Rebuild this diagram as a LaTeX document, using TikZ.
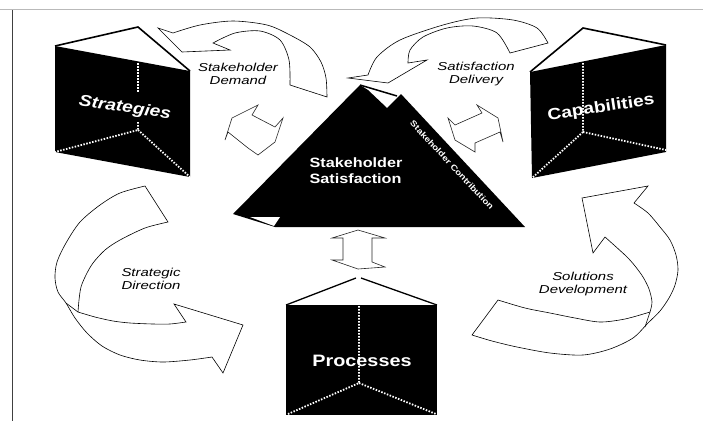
\documentclass[tikz,border=0pt]{standalone}
\usepackage{fontspec}
\setmainfont{Liberation Sans}
\newfontfamily\labfont[FakeStretch=1.3]{Liberation Sans}
\newfontfamily\boxfont[FakeStretch=1.2]{Liberation Sans}
\begin{document}
\begin{tikzpicture}[x=1pt,y=-1pt,
  ribbon/.style={fill=white, draw=black, line width=0.6pt, line join=miter},
  dbl/.style={fill=white, draw=black!85, line width=0.6pt},
  prism/.style={fill=black},
  topedge/.style={draw=black, line width=1.6pt},
  hidden/.style={draw=white, line width=1.8pt, dash pattern=on 1.5pt off 1.5pt},
  lab/.style={font=\labfont\itshape\fontsize{11.5}{13}\selectfont, align=center, inner sep=0pt},
  boxlab/.style={font=\boxfont\bfseries\fontsize{16}{18}\selectfont, text=white, inner sep=0pt}]
\useasboundingbox (0,0) rectangle (703,421);
\fill[white] (0,0) rectangle (703,421);
% frame
\draw[gray!55, line width=1.2pt] (0,9.5) -- (703,9.5);
\draw[black!75, line width=0.9pt] (12,10) -- (12,421);

% ---------- Strategies prism ----------
\coordinate (sA) at (55,46);
\coordinate (sB) at (138,27);
\coordinate (sC) at (190,71);
\coordinate (sD) at (190,177);
\coordinate (sE) at (55,152);
\coordinate (sM) at (138,130);
\fill[prism] (sA) -- (sC) -- (sD) -- (sE) -- cycle;
\draw[topedge] (sA) -- (sB) -- (sC);
\draw[hidden] (138,63) -- (138,93);
\draw[hidden] (138,122) -- (sM) -- (sE);
\draw[hidden] (sM) -- (sD);
\node[boxlab, rotate=-8.5] (strat) at (125,108) {\itshape Strategies};

% ---------- Capabilities prism ----------
\coordinate (cA) at (530,72);
\coordinate (cB) at (583,28);
\coordinate (cC) at (666,45);
\coordinate (cD) at (666,152);
\coordinate (cE) at (532,178);
\coordinate (cM) at (583,132);
\fill[prism] (cA) -- (cC) -- (cD) -- (cE) -- cycle;
\draw[topedge] (cA) -- (cB) -- (cC);
\draw[hidden] (583,63) -- (cM) -- (cE);
\draw[hidden] (cM) -- (666,150);
\node[boxlab, rotate=8.5] (capa) at (601,108) {Capabilities};

% ---------- Processes prism ----------
\coordinate (pA) at (286,305);
\coordinate (pB) at (358,277);
\coordinate (pC) at (437,305);
\coordinate (pD) at (437,415);
\coordinate (pE) at (286,415);
\coordinate (pM) at (359,383);
\fill[prism] (pA) -- (pC) -- (pD) -- (pE) -- cycle;
\draw[black, line width=1.3pt] (pA) -- (356,278);
\draw[black, line width=1.3pt] (361,278) -- (pC);
\draw[hidden] (359,306) -- (pM) -- (288,414);
\draw[hidden] (pM) -- (436,414);
\node[boxlab, font=\boxfont\bfseries\fontsize{16.5}{18}\selectfont] (proc) at (362,361) {Processes};

% ---------- Stakeholder Satisfaction triangle ----------
\fill[black] (233,214) -- (360,85) -- (368,90) -- (387,108) -- (397,98) -- (401,94)
  -- (525,227) -- (275,227) -- cycle;
\draw[black, line width=1.5pt] (360,85) -- (397,96);
\fill[white] (250,217) -- (280,217) -- (274,226) -- cycle;
\node[font=\boxfont\bfseries\fontsize{13.5}{16}\selectfont, text=white, align=left, inner sep=0pt]
  (sat) at (356,171) {Stakeholder\\Satisfaction};
\node[font=\boxfont\bfseries\fontsize{8.2}{9}\selectfont, text=white, inner sep=0pt, rotate=-47]
  (contrib) at (452,165) {Stakeholder Contribution};

% ---------- curved ribbon arrows ----------
% Stakeholder Demand
\filldraw[ribbon] (158,28) -- (182,52) -- (230,50) -- (213,43)
  -- plot[smooth] coordinates {(213,43) (235,33) (260,31) (280,40) (289,60) (290,85)}
  -- (327,97)
  -- plot[smooth] coordinates {(327,97) (326,78) (321,62) (310,47) (290,35) (267,25) (233,21) (200,25) (173,33)}
  -- cycle;
% Satisfaction Delivery
\filldraw[ribbon] (348,78) -- (388,83) -- (427,60) -- (408,63)
  -- plot[smooth] coordinates {(408,63) (410,50) (423,37) (447,28) (473,26) (497,33) (510,53)}
  -- (548,43)
  -- plot[smooth] coordinates {(548,43) (537,28) (513,20) (477,18) (443,25) (400,40) (377,57) (368,75)}
  -- cycle;
% Strategic Direction
\filldraw[ribbon] (145,186)
  -- plot[smooth] coordinates {(145,186) (120,193) (100,205) (80,222) (66,243) (57,262) (55,278) (58,292) (66,303) (75,318) (87,333) (102,346) (120,355) (140,360) (163,362) (190,360) (212,357)}
  -- (223,373) -- (243,325) -- (174,304) -- (186,322)
  -- plot[smooth] coordinates {(186,322) (170,324) (153,324) (130,323) (113,321) (95,317) (78,312)}
  -- plot[smooth] coordinates {(78,312) (79,300) (81,287) (86,275) (93,263) (105,250) (120,240) (145,228) (168,222)}
  -- cycle;
\draw[black, line width=0.6pt] (66,303) -- (78,312);
% Solutions Development
\filldraw[ribbon] (472,335) -- (498,300)
  -- plot[smooth] coordinates {(498,300) (525,308) (550,313) (575,318) (600,322) (625,319) (650,312)}
  -- plot[smooth] coordinates {(650,312) (652,302) (649,289) (643,277) (635,266) (626,256) (605,237)}
  -- (593,253) -- (582,198) -- (648,186) -- (634,203)
  -- plot[smooth] coordinates {(634,203) (648,213) (660,227) (670,240) (676,255) (678,270) (675,285) (669,298) (660,311) (648,323) (633,338) (610,349) (583,355) (550,353) (517,347) (492,341) (472,335)}
  -- cycle;
\draw[black, line width=0.6pt] (650,312) -- (645,327);

% ---------- double arrows ----------
\filldraw[dbl] (225,140) -- (232,118) -- (258,105) -- (252,115) -- (275,127) -- (283,118)
  -- (275,142) -- (258,155) -- (248,148) -- (228,132) -- cycle;
\filldraw[dbl] (477,105) -- (498,118) -- (503,142) -- (500,132) -- (475,143) -- (475,152)
  -- (455,140) -- (448,118) -- (455,125) -- (482,113) -- cycle;
\filldraw[dbl] (358,230) -- (385,238) -- (372,238) -- (372,262) -- (385,267) -- (358,269)
  -- (332,260) -- (343,260) -- (343,238) -- (332,238) -- cycle;

% ---------- labels ----------
\node[lab] (ldemand) at (238,73.5) {Stakeholder\\Demand};
\node[lab] (ldeliv) at (476,74) {Satisfaction\\Delivery};
\node[lab] (ldirect) at (151,278.5) {Strategic\\Direction};
\node[lab] (ldevel) at (583,284.5) {Solutions\\Development};
\end{tikzpicture}
\end{document}
